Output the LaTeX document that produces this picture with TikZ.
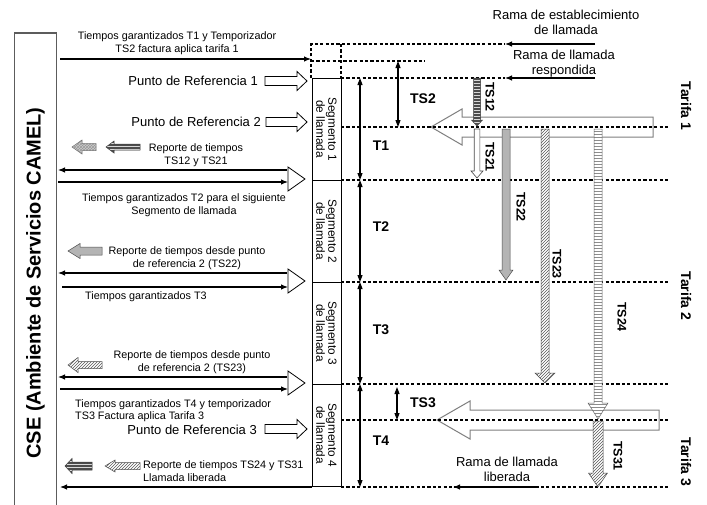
\documentclass[tikz,border=0pt]{standalone}
\usepackage{fontspec}
\setmainfont{Liberation Sans}
\usetikzlibrary{arrows.meta,patterns}
\definecolor{boxgray}{HTML}{5C5C5C}
\definecolor{arrgray}{HTML}{7F7F7F}
\definecolor{bargray}{HTML}{B4B4B4}

% block arrows: [style]{tip}{tail}{axis}{shaft half}{head half}{head length}
\newcommand{\larrow}[7][]{%
  \path[#1] (#2,#4) -- ({#2+#7},{#4-#6}) -- ({#2+#7},{#4-#5}) -- (#3,{#4-#5})
    -- (#3,{#4+#5}) -- ({#2+#7},{#4+#5}) -- ({#2+#7},{#4+#6}) -- cycle;}
\newcommand{\rarrow}[7][]{%
  \path[#1] (#2,#4) -- ({#2-#7},{#4-#6}) -- ({#2-#7},{#4-#5}) -- (#3,{#4-#5})
    -- (#3,{#4+#5}) -- ({#2-#7},{#4+#5}) -- ({#2-#7},{#4+#6}) -- cycle;}
\newcommand{\darrow}[7][]{%
  \path[#1] (#4,#2) -- ({#4-#6},{#2-#7}) -- ({#4-#5},{#2-#7}) -- ({#4-#5},#3)
    -- ({#4+#5},#3) -- ({#4+#5},{#2-#7}) -- ({#4+#6},{#2-#7}) -- cycle;}

\begin{document}
\begin{tikzpicture}[x=1pt, y=-1pt, font=\fontsize{10.8}{13.5}\selectfont,
  guide/.style={dash pattern=on 3.2pt off 2.2pt, line width=1.1pt},
  msg/.style={line width=1.1pt, -{Latex[length=7pt,width=5.5pt]}},
  span/.style={line width=1.1pt,
    {Triangle[length=7pt,width=5pt]}-{Triangle[length=7pt,width=5pt]}},
  segbox/.style={draw, line width=0.8pt, rotate=-90, minimum width=102pt,
    minimum height=29pt, inner sep=0pt, align=center,
    font=\fontsize{11.8}{12}\selectfont},
  note/.style={align=center, inner sep=0pt},
  big/.style={font=\fontsize{13}{15}\selectfont, inner sep=0pt, align=center},
  tlab/.style={font=\bfseries\fontsize{14}{16}\selectfont, inner sep=0pt},
  tslab/.style={font=\bfseries\fontsize{12.5}{14}\selectfont, rotate=-90,
    inner sep=0pt},
  tarifa/.style={font=\bfseries\fontsize{14}{16}\selectfont, rotate=-90,
    inner sep=0pt},
  hollow/.style={draw, fill=white, line width=0.8pt},
  wide/.style={draw=arrgray, line width=1pt},
  darkbar/.style={draw=black!75, line width=0.5pt, preaction={fill=black!70},
    pattern=horizontal lines, pattern color=black!15},
  lightbar/.style={draw=black!60, line width=0.5pt, preaction={fill=white},
    pattern=horizontal lines, pattern color=black!45},
  hatchbar/.style={draw=black!70, line width=0.5pt, preaction={fill=white},
    pattern=north east lines, pattern color=black!65},
  greybar/.style={draw=black!70, line width=0.5pt, fill=bargray},
  gridbar/.style={draw=black!55, line width=0.5pt, preaction={fill=black!20},
    pattern=crosshatch, pattern color=black!40},
  whitebar/.style={draw=black!70, line width=0.6pt, fill=white}]

\path[fill=white] (0,0) rectangle (707,504);
\useasboundingbox (0,0) rectangle (707,504);

% service environment
\draw[draw=boxgray, line width=1.4pt] (14.5,508) -- (14.5,33) -- (56.5,33)
  -- (56.5,508);
\node[font=\bfseries\fontsize{20}{22}\selectfont, rotate=90] (cse)
  at (35.5,283) {CSE (Ambiente de Servicios CAMEL)};

% wide tariff arrows
\larrow[wide]{431}{653}{127}{10}{18}{31}
\larrow[wide]{437}{659}{420}{10}{19}{33}

% time grid
\draw[guide] (311,78) -- (311,44) -- (505,44);
\draw[guide] (341,44) -- (341,78);
\draw[guide] (311,61) -- (425,61);
\draw[guide] (341,78) -- (505,78);
\foreach \yy in {127,180,282,384,420,487}
  \draw[guide] (341,\yy) -- (670,\yy);

\foreach \i/\yc in {1/129,2/231,3/333,4/435}
  \node[segbox] (seg\i) at (326.5,\yc) {Segmento \i\\de llamada};

\foreach \a/\b/\n/\ly in {78/180/T1/146, 180/282/T2/227, 282/384/T3/330,
                          384/487/T4/441}{
  \draw[span] (360,\a) -- (360,\b);
  \node[tlab] (lab\n) at (381,\ly) {\n};
}
\draw[span] (398,61) -- (398,127);
\node[tlab] (labTS2) at (423,99) {TS2};
\draw[span] (397,387) -- (397,420);
\node[tlab] (labTS3) at (423,403) {TS3};

% reports running down the grid
\darrow[darkbar]{126}{78}{477}{3.5}{5.5}{6}
\darrow[whitebar]{178}{129}{477}{2.8}{6}{7}
\darrow[greybar]{280}{129}{506}{4}{7}{10}
\darrow[hatchbar]{383}{129}{545}{4}{10}{10}
\darrow[lightbar]{419}{129}{598}{4}{10}{16}
\darrow[hatchbar]{487}{421}{598}{5}{9.5}{14}

\node[tslab] (ts12) at (490,97) {TS12};
\node[tslab] (ts21) at (490,157) {TS21};
\node[tslab] (ts22) at (521,207) {TS22};
\node[tslab] (ts23) at (557,264) {TS23};
\node[tslab] (ts24) at (622,317) {TS24};
\node[tslab] (ts31) at (618,456) {TS31};

\node[tarifa] (tar1) at (686,106) {Tarifa 1};
\node[tarifa] (tar2) at (686,296) {Tarifa 2};
\node[tarifa] (tar3) at (686,462) {Tarifa 3};

% call legs
\node[big] (leg1) at (566,22) {Rama de establecimiento\\de llamada};
\draw[msg] (595,44) -- (505,44);
\node[big] (leg2) at (564,64) {Rama de llamada\\respondida};
\draw[msg] (595,78) -- (505,78);
\node[big] (leg3) at (507,469) {Rama de llamada\\liberada};
\draw[msg] (535,487) -- (453,487);

% exchanges with the CSE
\node[note] (m1) at (177,43)
  {Tiempos garantizados T1 y Temporizador\\TS2 factura aplica tarifa 1};
\draw[msg] (60,59) -- (311,59);

\node[big, anchor=east] (pr1) at (258,81) {Punto de Referencia 1};
\rarrow[hollow]{307}{265}{81}{4.5}{9.5}{10}
\node[big, anchor=east] (pr2) at (261,122) {Punto de Referencia 2};
\rarrow[hollow]{307}{266}{122}{4.5}{9.5}{10}

\larrow[gridbar]{72}{96}{147}{3.5}{7}{10}
\larrow[darkbar]{106}{140}{147}{3}{6}{8}
\node[note] (m2) at (196,155) {Reporte de tiempos\\TS12 y TS21};
\draw[msg] (287,170) -- (58,170);
\draw[msg] (58,182) -- (288,182);
\draw[line width=0.8pt] (288,167) -- (305,179) -- (288,191) -- cycle;
\node[note] (m3) at (184,205)
  {Tiempos garantizados T2 para el siguiente\\Segmento de llamada};

\larrow[greybar]{68}{102}{251}{4}{7.5}{12}
\node[note] (m4) at (187,258)
  {Reporte de tiempos desde punto\\de referencia 2 (TS22)};
\draw[msg] (287,273) -- (58,273);
\draw[msg] (62,287) -- (288,287);
\draw[line width=0.8pt] (288,269) -- (305,281) -- (288,293) -- cycle;
\node[note, anchor=west] (m5) at (85,297) {Tiempos garantizados T3};

\larrow[hatchbar]{68}{102}{365}{3.5}{7.5}{10}
\node[note] (m6) at (192,362)
  {Reporte de tiempos desde punto\\de referencia 2 (TS23)};
\draw[msg] (287,377) -- (58,377);
\draw[msg] (60,389) -- (288,389);
\draw[line width=0.8pt] (288,371) -- (305,383) -- (288,395) -- cycle;
\node[note, anchor=west, align=left, font=\fontsize{10.8}{12.2}\selectfont]
  (m7) at (75,411)
  {Tiempos garantizados T4 y temporizador\\TS3 Factura aplica Tarifa 3};

\node[big, anchor=east] (pr3) at (257,429.5) {Punto de Referencia 3};
\rarrow[hollow]{307}{265}{429}{4.5}{9.5}{10}

\larrow[darkbar]{65}{92}{466}{4}{7.5}{7}
\larrow[hatchbar]{105}{140}{466}{3.5}{6}{10}
\node[note, anchor=west, align=left] (m8) at (143,471)
  {Reporte de tiempos TS24 y TS31\\Llamada liberada};
\draw[msg] (312,487) -- (60,487);

\end{tikzpicture}
\end{document}
